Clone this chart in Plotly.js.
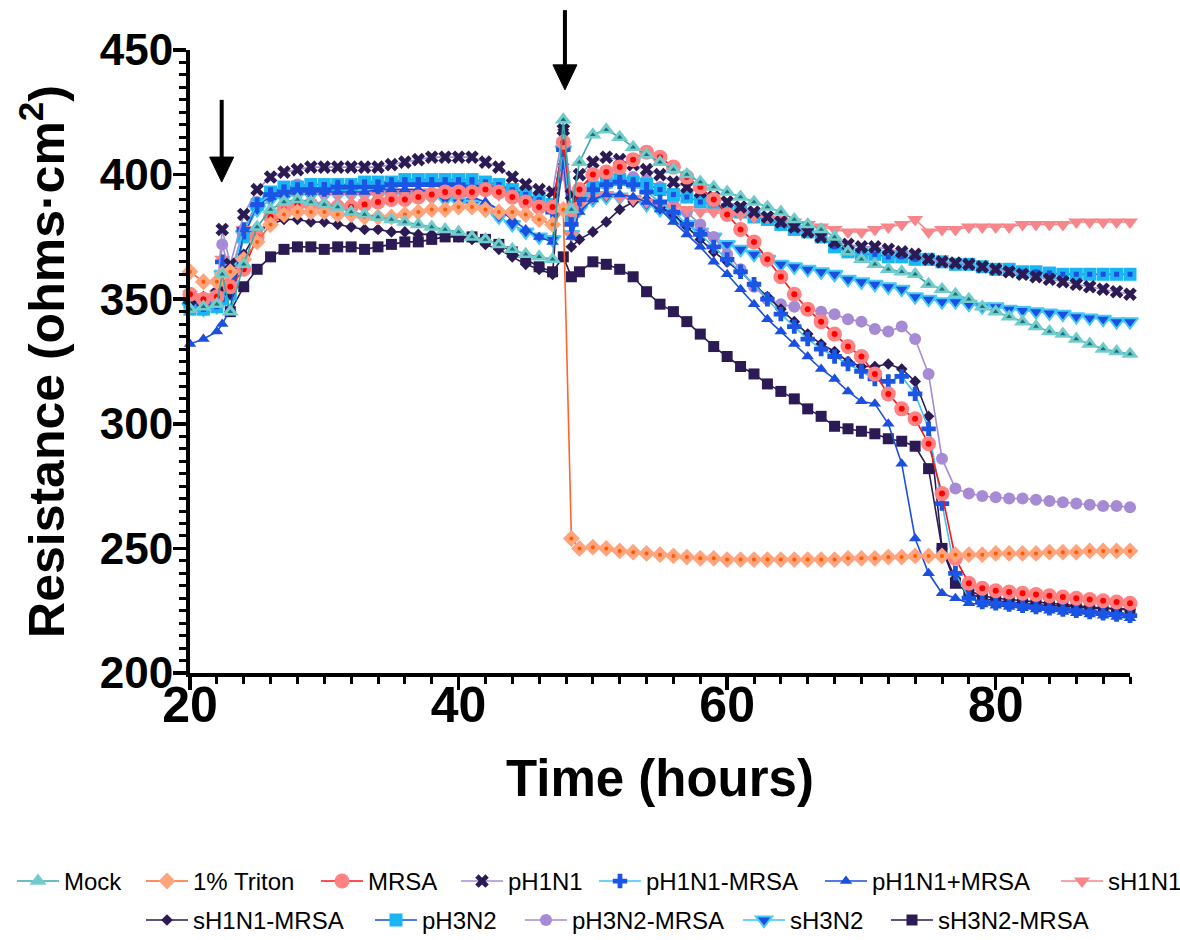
<!DOCTYPE html>
<html>
<head>
<meta charset="utf-8">
<script src="https://cdn.plot.ly/plotly-3.0.1.min.js"></script>
<style>
  html, body { margin: 0; padding: 0; background: #ffffff; }
  #chart { width: 1180px; height: 940px; }
</style>
</head>
<body>
<div id="chart"></div>
<script>
// ---------------- DATA ----------------
const time = [20,21,22,22.4,23,24,25,26,27,28,29,30,31,32,33,34,35,36,37,38,39,40,41,42,43,44,45,46,47,47.8,48.4,
  49,50,51,52,53,54,55,56,57,58,59,60,61,62,63,64,65,66,67,68,69,70,71,72,73,74,75,76,77,78,79,80,81,82,83,84,85,86,87,88,89,90];

const seriesNames = ["Mock","1% Triton","MRSA","pH1N1","pH1N1-MRSA","pH1N1+MRSA","sH1N1",
  "sH1N1-MRSA","pH3N2","pH3N2-MRSA","sH3N2","sH3N2-MRSA"];

const mock = [346,347,348,360,345,364,379,386,389,390,389,388,387,385,384,383,382,381,380,379,378,377,375,374,372,370,368,367,366,422,386,
  405,416,418,415,411,408,405,402,400,397,395,393,391,389,387,385,382,380,378,375,369,366,364,362,361,360,356,354,352,350,347,345,343,341,339,337,336,334,332,330,329,328];

const triton = [361,357,357,360,361,366,373,380,384,385,385,385,384,384,383,383,383,384,385,386,386,387,387,386,385,385,384,382,380,386,254,
  250,250.5,250,249,248.5,248,247.5,247,246.5,246,246,245.5,245.5,245.5,245.5,245.5,245.5,245.5,245.5,245.5,246,246,246,246.5,246.5,247,247,247,247.5,247.5,247.5,248,248,248,248,248.5,248.5,248.5,249,249,249,249];

const mrsa = [352,350,351,358,355,362,375,383,386,388,388,387,387,387,388,389,390,390,391,392,393,393,393,394,393,391,389,387,387,413,386,
  394,400,401,403,406,409,407,403,399,395,390,384,378,373,366,359,352,346,341,336,331,327,320,312,306,302,292,272,246,236,234,233,232.5,232,231.5,231,230.5,230,229.5,229,228.5,228];

const ph1n1 = [350,349,352,378,364,384,394,399,401,402,403,403,403,403,403,403,404,405,406,407,407,407,407,405,403,399,396,394,393,418,392,
  400,405,407,406,404,402,400,397,395,393,391,389,387,385,383,381,379,377,375,373,372,371,371,370,369,368,366,365,364.5,364,363,362,361,360,359,358,357,356,355,354,353,352];

const ph1n1Mrsa = [349,348,350,365,358,378,388,392,393,394,394,394,395,395,395,395,396,396,396,396,396,396,395,395,394,392,390,387,385,410,380,
  390,394,396,397,396,393,389,385,380,376,371,366,361,356,350,344,339,334,330,327,324,321,318,317,319,312,298,268,240,230,228.5,228,227.5,227,226.5,226,225.5,225,224.5,224,223.5,223];

const ph1n1PlusMrsa = [332,334,337,340,346,378,388,391,392,393,393,393,393,393,393,394,394,394,394,393,393,392,391,389,386,382,378,375,373,405,375,
  385,390,392,392,391,389,386,381,376,371,365,360,354,348,342,337,332,327,322,318,313,309,308,300,284,254,240,232,230,228,227.5,227,226.5,226,225.5,225,224.5,224,223.5,223,222.5,222];

const sh1n1 = [352,351,352,366,360,378,388,391,392,393,393,392,392,392,392,392,393,393,393,393,394,394,394,393,392,391,389,388,387,400,376,
  388,391,392,391,390,389,388,387,386,385,385,384,384,383,383,382,381,380,379,378,377,377,378,379,380,382,377,378,378,379,379,379,379,380,380,380,380,381,381,381,381,381];

const sh1n1Mrsa = [352,351,353,365,352,368,377,380,382,382,381,381,380,379,378,378,377,377,376,376,376,375,374,372,370,367,364,362,360,418,371,
  374,377,381,386,389,390,387,384,379,374,369,365,361,356,351,346,341,336,332,329,325,323,323,324,322,317,303,250,238,233,231,230,229.5,229,228.5,228,227.5,227,226.5,226,226,225.5];

const ph3n2 = [346,346,347,350,352,375,388,393,395,395,396,396,396,396,397,397,397,398,398,398,398,398,398,397,396,394,392,390,388,412,382,
  392,395,397,398,397,396,394,392,391,389,388,386,385,383,382,380,378,377,375,371,369,368,368,367,367,366,366,365,364,364,363,362,362,361,361,360.5,360,360,360,360,360,360];

const ph3n2Mrsa = [350,349,350,372,360,378,389,393,395,396,396,396,396,396,396,397,397,397,397,397,397,397,397,396,395,393,390,388,386,412,383,
  391,394,396,398,399,398,395,390,385,380,375,368,362,355,350,348,347,346,345,344,342,341,338,337,339,334,320,286,274,272,271,270.5,270,270,269.5,269,268.5,268,267.5,267,267,266.5];

const sh3n2 = [347,346,347,360,355,376,386,390,391,392,392,392,392,392,392,392,392,392,392,391,390,389,388,386,383,380,377,375,374,410,376,
  386,390,391,391,390,388,386,383,380,377,375,372,370,368,366,364,363,362,361,360,358,357,356,355,354,351,350,349,349,348,347,347,346,345.5,345,344.5,344,343,342.5,342,341,341];

const sh3n2Mrsa = [350,349,350,355,345,355,362,367,370,371,371,370,371,371,370,371,372,373,373,374,375,375,375,374,372,369,366,363,361,367,359,
  361,365,364,362,359,353,348,345,341,336,331,327,323,320,316,313,310,306,303,299,298,297,296,294,293,291,282,250,236,232,230,229,228.5,228,227.5,227,227,226.5,226,226,225.5,225.5];

const seriesValues = [mock, triton, mrsa, ph1n1, ph1n1Mrsa, ph1n1PlusMrsa, sh1n1,
  sh1n1Mrsa, ph3n2, ph3n2Mrsa, sh3n2, sh3n2Mrsa];

// treatment arrows: time (hours) and the resistance of tip / tail
const arrowTimes = [22.36, 47.92];
const arrowTips = [397, 434];
const arrowTails = [430, 466];

// ---------------- STYLES ----------------
const DARK = '#2c1a55';
const BLUE = '#1a4fe0';
const styles = [
  {line:'#3aa9ab', color:'#72cccd', symbol:'triangle-up', size:15, inner:{color:'#1f7276', symbol:'triangle-up', size:5}},
  {line:'#ff6428', color:'#ffa47c', symbol:'diamond', size:13, inner:{color:'#ff5a00', symbol:'circle', size:4}},
  {line:'#ff1414', color:'#ff8282', symbol:'circle', size:15, inner:{color:'#ff0000', symbol:'circle', size:6}},
  {line:'#a190d2', color:DARK, symbol:'x', size:12},
  {line:'#3ec4f6', color:'#1a55e6', symbol:'cross', size:12},
  {line:BLUE, color:BLUE, symbol:'triangle-up', size:11},
  {line:'#f7868b', color:'#f7868b', symbol:'triangle-down', size:14},
  {line:DARK, color:DARK, symbol:'diamond', size:9},
  {line:BLUE, color:'#1ab5f3', symbol:'square', size:13, inner:{color:BLUE, symbol:'square', size:5}},
  {line:'#a68bd4', color:'#a68bd4', symbol:'circle', size:12},
  {line:'#3ec4f6', color:BLUE, symbol:'triangle-down', size:14, mline:{color:'#46c8f7', width:2}},
  {line:DARK, color:DARK, symbol:'square', size:11}
];

// legend layout: one small legend per entry so the two rows are laid out like the reference
const legendSymbolLeft = [15,144,319,459,597,823,1059, 144,373,523,741,889];
const legendRowTop = [-0.2985, -0.361];
const FONT = 'Arial, "Liberation Sans", sans-serif';
const PLOT_L = 190, PLOT_W = 940, PLOT_H = 623;
const X0 = 20, X1 = 90, Y0 = 200, Y1 = 450;

function legendId(i) { return i === 0 ? 'legend' : 'legend' + (i + 1); }

// draw later series first so that Mock ends on top
const traces = [];
for (let i = seriesNames.length - 1; i >= 0; i--) {
  const s = styles[i];
  const lid = legendId(i);
  traces.push({
    type: 'scatter', mode: 'lines+markers',
    x: time, y: seriesValues[i], name: seriesNames[i],
    legend: lid,
    line: {color: s.line, width: 1.6},
    marker: {color: s.color, symbol: s.symbol, size: s.size,
             line: s.mline ? s.mline : {width: 0}},
    cliponaxis: false
  });
  if (s.inner) {
    traces.push({
      type: 'scatter', mode: 'markers',
      x: time, y: seriesValues[i], name: seriesNames[i] + ' centre',
      legend: lid, showlegend: false, hoverinfo: 'skip',
      marker: {color: s.inner.color, symbol: s.inner.symbol, size: s.inner.size, line: {width: 0}},
      cliponaxis: false
    });
  }
}

// arrows as shapes in paper coordinates (not clipped above the plot)
const shapes = [];
const HEAD_LEN = 25 / PLOT_H, HEAD_HALF = 12 / PLOT_W;
for (let k = 0; k < arrowTimes.length; k++) {
  const px = (arrowTimes[k] - X0) / (X1 - X0);
  const tip = (arrowTips[k] - Y0) / (Y1 - Y0);
  const tail = (arrowTails[k] - Y0) / (Y1 - Y0);
  const base = tip + HEAD_LEN;
  shapes.push({type: 'line', xref: 'paper', yref: 'paper', x0: px, x1: px, y0: tail, y1: base - 0.004,
               line: {color: '#000', width: 4}});
  shapes.push({type: 'path', xref: 'paper', yref: 'paper',
               path: `M ${px - HEAD_HALF},${base} L ${px + HEAD_HALF},${base} L ${px},${tip} Z`,
               fillcolor: '#000', line: {color: '#000', width: 1}});
}

const layout = {
  width: 1180, height: 940,
  margin: {l: 190, r: 50, t: 50, b: 267, autoexpand: false},
  paper_bgcolor: '#ffffff', plot_bgcolor: '#ffffff',
  font: {family: FONT, color: '#000000'},
  showlegend: true,
  xaxis: {
    range: [X0, X1], autorange: false,
    tick0: 20, dtick: 20, ticks: 'outside', ticklen: 13, tickwidth: 3.5, tickcolor: '#000',
    showline: true, linewidth: 4, linecolor: '#000', showgrid: false, zeroline: false,
    tickfont: {family: FONT, size: 50, weight: 'bold', color: '#000'},
    ticklabelstandoff: -28,
    minor: {dtick: 2, ticks: 'outside', ticklen: 7, tickwidth: 3, tickcolor: '#000', showgrid: false},
    title: {text: 'Time (hours)', font: {family: FONT, size: 51, weight: 'bold', color: '#000'}, standoff: 29}
  },
  yaxis: {
    range: [Y0, Y1], autorange: false,
    tick0: 200, dtick: 50, ticks: 'outside', ticklen: 13, tickwidth: 3.5, tickcolor: '#000',
    showline: true, linewidth: 4, linecolor: '#000', showgrid: false, zeroline: false,
    tickfont: {family: FONT, size: 44, weight: 'bold', color: '#000'},
    ticklabelstandoff: -9,
    minor: {dtick: 5, ticks: 'outside', ticklen: 7, tickwidth: 3, tickcolor: '#000', showgrid: false},
    title: {text: 'Resistance (ohms\u00b7cm<sup>2</sup>)', font: {family: FONT, size: 50, weight: 'bold', color: '#000'}, standoff: 20}
  },
  shapes: shapes
};

for (let i = 0; i < seriesNames.length; i++) {
  layout[legendId(i)] = {
    orientation: 'h', xanchor: 'left', yanchor: 'top',
    x: (legendSymbolLeft[i] - 3 - PLOT_L) / PLOT_W,
    y: legendRowTop[i < 7 ? 0 : 1],
    font: {family: FONT, size: 24, color: '#000'}, itemwidth: 42,
    bgcolor: 'rgba(0,0,0,0)', borderwidth: 0
  };
}

Plotly.newPlot('chart', traces, layout, {displayModeBar: false, staticPlot: true});
</script>
</body>
</html>
